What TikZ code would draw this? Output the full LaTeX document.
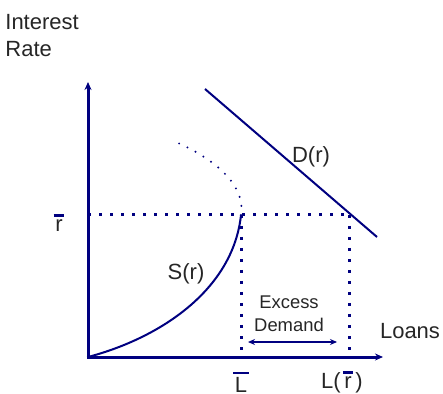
\documentclass[tikz,border=0pt]{standalone}
\usepackage{fontspec}
\setmainfont{Liberation Sans}
\usepackage{tikz}
\usetikzlibrary{arrows.meta}

\definecolor{navy}{RGB}{0,0,128}
\newcommand{\barred}[1]{\setbox0\hbox{#1}\makebox[0pt][l]{\hspace{-0.8pt}\textcolor{navy}{\rule[\dimexpr\ht0+1.4pt\relax]{\dimexpr\wd0+1.6pt\relax}{1.3pt}}}#1}

\begin{document}
\begin{tikzpicture}[
    x=0.5pt, y=-0.5pt,
    font=\fontsize{11}{13.5}\selectfont,
    axis/.style={draw=navy, line width=1.5pt, -{Stealth[length=4pt,width=3.5pt]}},
    curve/.style={draw=navy, line width=1pt},
    guide/.style={draw=navy, line width=1.5pt, dash pattern=on 1.5pt off 4pt},
    extension/.style={draw=navy, line width=1.1pt, line cap=round, dash pattern=on 0pt off 4.6pt},
    gap/.style={draw=navy, line width=1pt, {Stealth[length=3.5pt,width=3pt]}-{Stealth[length=3.5pt,width=3pt]}},
    label/.style={text=black!85, inner sep=0pt},
    small/.style={label, font=\fontsize{9.2}{11.5}\selectfont}
]
\useasboundingbox (0,0) rectangle (443,394);

% axes
\coordinate (origin) at (88,357);
\coordinate (ytop) at (88,82);
\coordinate (xend) at (383,357);
\draw[axis] (origin) -- (ytop);
\draw[axis] ([xshift=-0.75pt]origin) -- (xend);

% supply and demand
\coordinate (sr) at (241,215);
\coordinate (sdot) at (178,143);
\coordinate (dtop) at (205,89);
\coordinate (dbot) at (377,237);
\coordinate (dr) at (349,215);
\draw[curve] (origin) .. controls (160,338) and (233,290) .. (sr);
\draw[extension] (sr) .. controls (246,186) and (216,160) .. (sdot);
\draw[curve] (dtop) -- (dbot);

% r-bar level
\coordinate (ylev) at (88,215);
\coordinate (lbar) at (241,357);
\coordinate (lrbar) at (349,357);
\draw[guide] (ylev) -- (dr);
\draw[guide] (sr) -- (lbar);
\draw[guide] (dr) -- (lrbar);

% excess demand
\coordinate (exl) at (248,342);
\coordinate (exr) at (337,342);
\draw[gap] (exl) -- (exr);

% labels
\node[label, anchor=north west, align=left] (ylabel) at (5,14) {Interest\\Rate};
\node[label] (xlabel) at (410,331) {Loans};
\node[label] (dlabel) at (311,157) {D(r)};
\node[label] (slabel) at (186,274) {S(r)};
\node[small] (excess) at (289,302) {Excess};
\node[small] (demand) at (289,325) {Demand};
\node[label] (rlabel) at (59,223) {\barred{r}};
\node[label] (llabel) at (241,382) {\barred{L}};
\node[label] (lrlabel) at (342,382) {L(\,\barred{r}\,)};
\end{tikzpicture}
\end{document}
